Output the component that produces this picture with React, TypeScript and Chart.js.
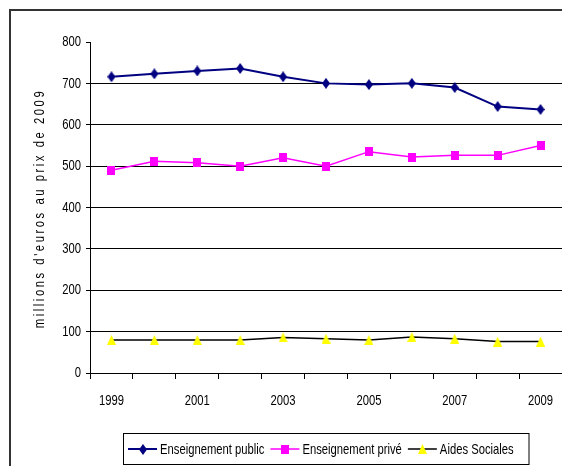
import { useEffect, useRef } from 'react';
import { Chart, registerables } from 'chart.js';

Chart.register(...registerables);

// Spending series, in millions of euros at 2009 prices
const years = ['1999', '2000', '2001', '2002', '2003', '2004', '2005', '2006', '2007', '2008', '2009'];
const publicSpend = [716, 723, 730, 736, 716, 700, 697, 700, 690, 644, 637];
const privateSpend = [490, 512, 508, 500, 520, 500, 535, 522, 526, 526, 550];
const socialAid = [80, 80, 80, 80, 86, 83, 80, 87, 83, 76, 76];

const seriesNames = ['Enseignement public', 'Enseignement privé', 'Aides Sociales'];
const yTitle = "millions d'euros au prix de 2009";
const yMin = 0;
const yMax = 800;
const yStep = 100;

const FONT = "'Liberation Sans', Arial, sans-serif";
const FONT_SIZE = 15;
const SQUEEZE = 0.75; // horizontal condensing of all text
const W = 562;
const H = 466;

type Shape = 'diamond' | 'square' | 'triangle';

function makeMarker(shape: Shape, w: number, h: number, color: string): HTMLCanvasElement {
  const c = document.createElement('canvas');
  c.width = w;
  c.height = h;
  const g = c.getContext('2d')!;
  g.fillStyle = color;
  g.beginPath();
  if (shape === 'diamond') {
    g.moveTo(w / 2, 0);
    g.lineTo(w, h / 2);
    g.lineTo(w / 2, h);
    g.lineTo(0, h / 2);
  } else if (shape === 'square') {
    g.rect(0, 0, w, h);
  } else {
    g.moveTo(w / 2, 0);
    g.lineTo(w, h);
    g.lineTo(0, h);
  }
  g.closePath();
  g.fill();
  return c;
}

// Draws condensed text; returns its drawn width
function narrowText(
  ctx: CanvasRenderingContext2D,
  text: string,
  x: number,
  y: number,
  align: CanvasTextAlign,
  baseline: CanvasTextBaseline,
): number {
  ctx.save();
  ctx.font = `${FONT_SIZE}px ${FONT}`;
  ctx.fillStyle = '#000';
  ctx.textAlign = align;
  ctx.textBaseline = baseline;
  ctx.translate(x, y);
  ctx.scale(SQUEEZE, 1);
  ctx.fillText(text, 0, 0);
  const w = ctx.measureText(text).width * SQUEEZE;
  ctx.restore();
  return w;
}

export default function App() {
  const canvasRef = useRef<HTMLCanvasElement | null>(null);

  useEffect(() => {
    const canvas = canvasRef.current;
    if (!canvas) return;

    const markers = [
      makeMarker('diamond', 8, 11, '#000080'),
      makeMarker('square', 8, 9, '#FF00FF'),
      makeMarker('triangle', 9, 10, '#FFFF00'),
    ];
    const lineColors = ['#000080', '#FF00FF', '#000000'];
    const lineWidths = [2, 1.5, 1.5];

    // Frame, tick labels, rotated axis title and boxed legend
    const decorations = {
      id: 'decorations',
      afterDraw(chart: Chart) {
        const ctx = chart.ctx;
        const area = chart.chartArea;
        const xs: any = chart.scales.x;
        const ys: any = chart.scales.y;

        ctx.save();
        ctx.strokeStyle = '#333333';
        ctx.lineWidth = 2;
        ctx.strokeRect(10, 10, W + 20, H + 20);
        ctx.restore();

        // category labels, every other year
        xs.ticks.forEach((_t: any, i: number) => {
          if (i % 2 !== 0) return;
          narrowText(ctx, years[i], xs.getPixelForTick(i), 405, 'center', 'alphabetic');
        });

        // value labels
        ys.ticks.forEach((t: any, i: number) => {
          narrowText(ctx, String(t.value), 81, ys.getPixelForTick(i), 'right', 'middle');
        });

        // y axis title with spaced letters
        ctx.save();
        ctx.font = `${FONT_SIZE}px ${FONT}`;
        (ctx as any).letterSpacing = '3.4px';
        ctx.fillStyle = '#000';
        ctx.textAlign = 'center';
        ctx.textBaseline = 'alphabetic';
        ctx.translate(44, (area.top + area.bottom) / 2 + 1);
        ctx.rotate(-Math.PI / 2);
        ctx.scale(SQUEEZE, 1);
        ctx.fillText(yTitle, 0, 0);
        ctx.restore();

        // legend
        ctx.save();
        ctx.strokeStyle = '#000';
        ctx.lineWidth = 1;
        ctx.strokeRect(123.5, 433.5, 405.5, 31);
        const cy = 449;
        let x = 128;
        seriesNames.forEach((name, i) => {
          ctx.strokeStyle = lineColors[i];
          ctx.lineWidth = lineWidths[i];
          ctx.beginPath();
          ctx.moveTo(x, cy);
          ctx.lineTo(x + 29, cy);
          ctx.stroke();
          const m = markers[i];
          ctx.drawImage(m, Math.round(x + 14.5 - m.width / 2), Math.round(cy - m.height / 2));
          const tw = narrowText(ctx, name, x + 32, cy + 5, 'left', 'alphabetic');
          x += 32 + tw + 6;
        });
        ctx.restore();
      },
    };

    const chart = new Chart(canvas, {
      type: 'line',
      data: {
        labels: years,
        datasets: [
          { label: seriesNames[0], data: publicSpend },
          { label: seriesNames[1], data: privateSpend },
          { label: seriesNames[2], data: socialAid },
        ].map((d, i) => ({
          ...d,
          borderColor: lineColors[i],
          borderWidth: lineWidths[i],
          pointStyle: markers[i],
          pointRadius: 5,
          tension: 0,
          fill: false,
        })),
      },
      options: {
        responsive: false,
        animation: false,
        devicePixelRatio: 1,
        layout: { autoPadding: false, padding: { top: 42, left: 0, right: -2, bottom: 0 } },
        plugins: {
          legend: { display: false },
          tooltip: { enabled: false },
          title: { display: false },
        },
        scales: {
          x: {
            type: 'category',
            offset: true,
            afterFit: (s: any) => {
              s.height = 93;
            },
            grid: {
              offset: true,
              drawOnChartArea: false,
              drawTicks: true,
              tickLength: 6,
              color: '#000',
            },
            border: { color: '#000', width: 1 },
            ticks: { display: false, autoSkip: false, maxRotation: 0 },
          },
          y: {
            min: yMin,
            max: yMax,
            afterFit: (s: any) => {
              s.width = 90;
            },
            grid: {
              color: (c: any) =>
                c.tick && (c.tick.value === yMax || c.tick.value === yMin) ? 'rgba(0,0,0,0)' : '#000',
              tickColor: '#000',
              tickLength: 4,
              lineWidth: 1,
            },
            border: { color: '#000', width: 1 },
            ticks: { display: false, stepSize: yStep },
          },
        },
      },
      plugins: [decorations],
    });

    return () => chart.destroy();
  }, []);

  return (
    <div style={{ position: 'fixed', left: 0, top: 0, width: W, height: H, background: '#fff' }}>
      <canvas ref={canvasRef} width={W} height={H} style={{ display: 'block' }} />
    </div>
  );
}
